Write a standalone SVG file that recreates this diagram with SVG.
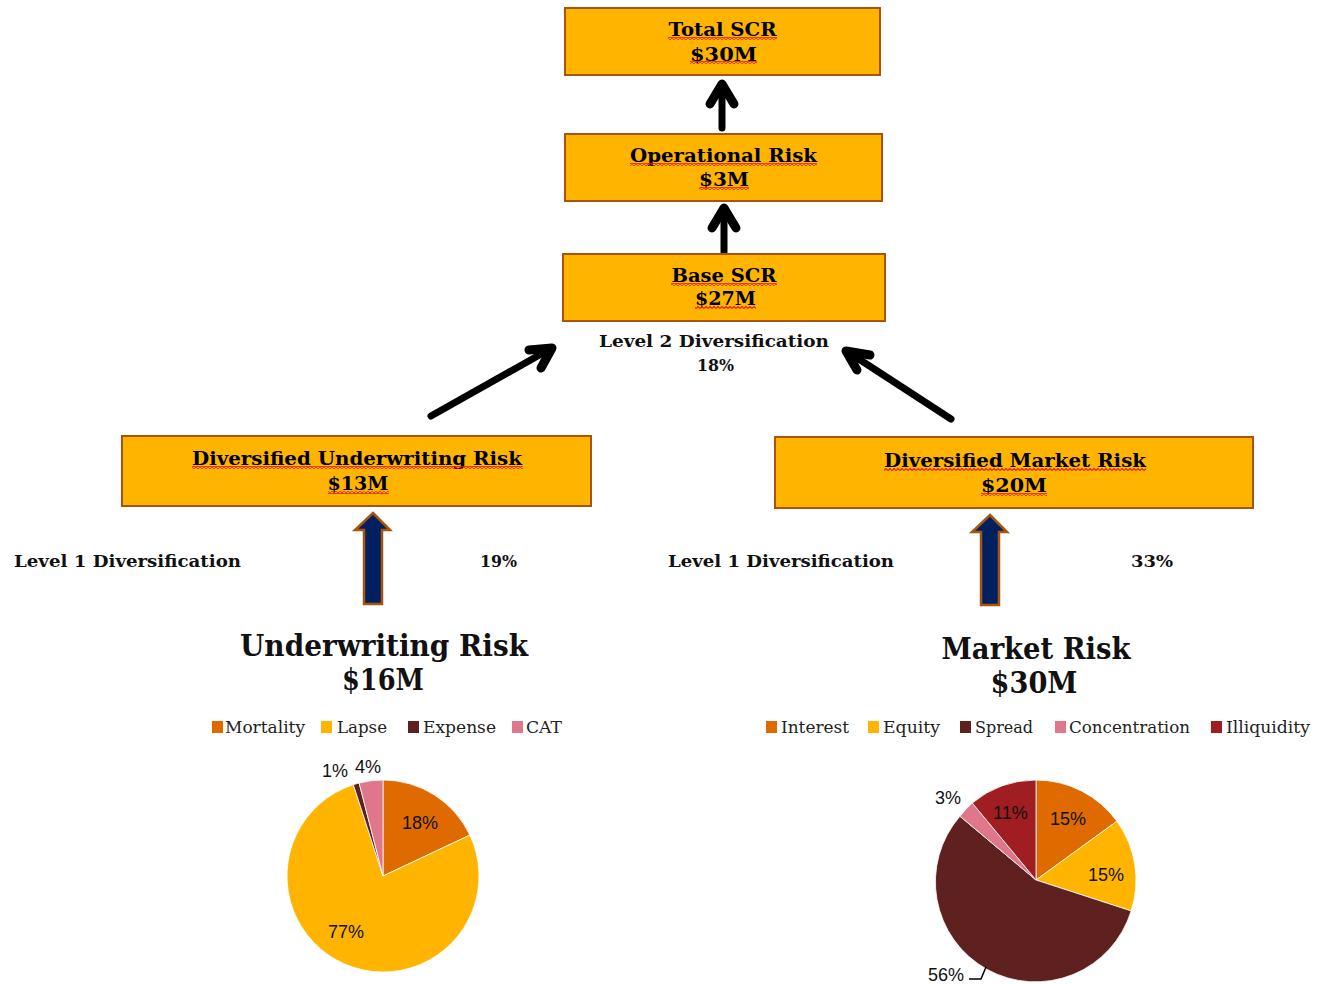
<svg xmlns="http://www.w3.org/2000/svg" width="1329" height="984" viewBox="0 0 1329 984">
<defs>
<pattern id="sq" patternUnits="userSpaceOnUse" width="4" height="3">
<path d="M0,2.5 L2,0.5 L4,2.5" fill="none" stroke="#E0201B" stroke-width="1.1"/>
</pattern>
<style>
.box{fill:#FFB400;stroke:#A8540C;stroke-width:2}
.bt{font-family:"DejaVu Serif","Liberation Serif",serif;font-weight:bold;font-size:19px;fill:#000;text-anchor:middle}
.lv{font-family:"DejaVu Serif","Liberation Serif",serif;font-weight:bold;font-size:16px;fill:#111}
.ttl{font-family:"DejaVu Serif","Liberation Serif",serif;font-weight:bold;font-size:29px;fill:#111;text-anchor:middle}
.lg{font-family:"DejaVu Serif","Liberation Serif",serif;font-size:16px;fill:#222}
.pl{font-family:"Liberation Sans",Arial,sans-serif;font-size:18px;fill:#111}
.sq{fill:url(#sq)}
.blk{fill:none;stroke:#000;stroke-width:7;stroke-linecap:round;stroke-linejoin:round}
.hd{fill:none;stroke:#000;stroke-width:9;stroke-linecap:round;stroke-linejoin:round}
.blue{fill:#002060;stroke:#A8540C;stroke-width:2.5}
.sl{stroke:#fff;stroke-width:0.8}
</style>
</defs>
<rect width="1329" height="984" fill="#fff"/>

<g id="connectors">
<line class="blk" x1="722" y1="128" x2="722" y2="86"/>
<polyline class="hd" points="710,104 722,84 734,104"/>
<line class="blk" x1="724" y1="252" x2="724" y2="210"/>
<polyline class="hd" points="712,228 724,208 736,228"/>
<line class="blk" x1="431" y1="416" x2="550" y2="349"/>
<polyline class="hd" points="529,350 552,348 541,368"/>
<line class="blk" x1="951" y1="419" x2="848" y2="352"/>
<polyline class="hd" points="870,355 846,351 857,370"/>
<polygon class="blue" points="373,513 390,530 382,530 382,604 364,604 364,530 355,530"/>
<polygon class="blue" points="990,515 1007,532 999,532 999,605 981,605 981,532 972,532"/>
</g>

<g id="total-scr">
<rect class="box" x="565" y="8" width="315" height="67"/>
<text class="bt" x="722.5" y="36" textLength="108" lengthAdjust="spacingAndGlyphs">Total SCR</text>
<text class="bt" x="723.5" y="61" textLength="67" lengthAdjust="spacingAndGlyphs">$30M</text>
<rect class="sq" x="668" y="37" width="109" height="3"/>
<rect class="sq" x="690" y="61" width="67" height="3"/>
</g>

<g id="operational-risk">
<rect class="box" x="565" y="134" width="317" height="67"/>
<text class="bt" x="723.5" y="162" textLength="187" lengthAdjust="spacingAndGlyphs">Operational Risk</text>
<text class="bt" x="724" y="186" textLength="50" lengthAdjust="spacingAndGlyphs">$3M</text>
<rect class="sq" x="630" y="163" width="187" height="3"/>
<rect class="sq" x="699" y="187" width="50" height="3"/>
</g>

<g id="base-scr">
<rect class="box" x="563" y="254" width="322" height="67"/>
<text class="bt" x="724" y="282" textLength="105" lengthAdjust="spacingAndGlyphs">Base SCR</text>
<text class="bt" x="725.5" y="305" textLength="61" lengthAdjust="spacingAndGlyphs">$27M</text>
<rect class="sq" x="671" y="283" width="106" height="3"/>
<rect class="sq" x="695" y="306" width="61" height="3"/>
</g>

<g id="level2">
<text class="lv" x="714" y="347" text-anchor="middle" textLength="230" lengthAdjust="spacingAndGlyphs">Level 2 Diversification</text>
<text class="lv" x="715.5" y="371" text-anchor="middle" textLength="37" lengthAdjust="spacingAndGlyphs">18%</text>
</g>

<g id="diversified-underwriting-risk">
<rect class="box" x="122" y="436" width="469" height="70"/>
<text class="bt" x="357" y="465" textLength="330" lengthAdjust="spacingAndGlyphs">Diversified Underwriting Risk</text>
<text class="bt" x="358" y="490" textLength="61" lengthAdjust="spacingAndGlyphs">$13M</text>
<rect class="sq" x="192" y="466" width="331" height="3"/>
<rect class="sq" x="328" y="491" width="61" height="3"/>
</g>

<g id="diversified-market-risk">
<rect class="box" x="775" y="437" width="478" height="71"/>
<text class="bt" x="1015" y="467" textLength="262" lengthAdjust="spacingAndGlyphs">Diversified Market Risk</text>
<text class="bt" x="1014" y="492" textLength="66" lengthAdjust="spacingAndGlyphs">$20M</text>
<rect class="sq" x="884" y="468" width="262" height="3"/>
<rect class="sq" x="981" y="493" width="66" height="3"/>
</g>

<g id="level1-left">
<text class="lv" x="14" y="567" textLength="227" lengthAdjust="spacingAndGlyphs">Level 1 Diversification</text>
<text class="lv" x="480" y="567" textLength="37" lengthAdjust="spacingAndGlyphs">19%</text>
</g>
<g id="level1-right">
<text class="lv" x="668" y="567" textLength="226" lengthAdjust="spacingAndGlyphs">Level 1 Diversification</text>
<text class="lv" x="1131" y="567" textLength="42" lengthAdjust="spacingAndGlyphs">33%</text>
</g>

<g id="underwriting-risk">
<text class="ttl" x="384" y="656" textLength="288" lengthAdjust="spacingAndGlyphs">Underwriting Risk</text>
<text class="ttl" x="383" y="690" textLength="82" lengthAdjust="spacingAndGlyphs">$16M</text>
<rect x="212" y="721" width="11" height="12" fill="#DE6A00"/>
<text class="lg" x="225" y="733" textLength="80" lengthAdjust="spacingAndGlyphs">Mortality</text>
<rect x="321" y="721" width="11" height="12" fill="#FFB400"/>
<text class="lg" x="337" y="733" textLength="50" lengthAdjust="spacingAndGlyphs">Lapse</text>
<rect x="408" y="721" width="11" height="12" fill="#5E2120"/>
<text class="lg" x="423" y="733" textLength="73" lengthAdjust="spacingAndGlyphs">Expense</text>
<rect x="512" y="721" width="11" height="12" fill="#E0768A"/>
<text class="lg" x="526" y="733" textLength="36" lengthAdjust="spacingAndGlyphs">CAT</text>
<path class="sl" fill="#DE6A00" d="M383,876 L383,780 A96,96 0 0 1 469.86,835.12 Z"/>
<path class="sl" fill="#FFB400" d="M383,876 L469.86,835.12 A96,96 0 1 1 353.33,784.70 Z"/>
<path class="sl" fill="#5E2120" d="M383,876 L353.33,784.70 A96,96 0 0 1 359.12,783.01 Z"/>
<path class="sl" fill="#E0768A" d="M383,876 L359.12,783.01 A96,96 0 0 1 383,780 Z"/>
<text class="pl" x="402" y="829">18%</text>
<text class="pl" x="328" y="938">77%</text>
<text class="pl" x="322" y="777">1%</text>
<text class="pl" x="355" y="773">4%</text>
</g>

<g id="market-risk">
<text class="ttl" x="1036" y="659" textLength="189" lengthAdjust="spacingAndGlyphs">Market Risk</text>
<text class="ttl" x="1034" y="693" textLength="87" lengthAdjust="spacingAndGlyphs">$30M</text>
<rect x="766" y="721" width="11" height="12" fill="#DE6A00"/>
<text class="lg" x="781" y="733" textLength="68" lengthAdjust="spacingAndGlyphs">Interest</text>
<rect x="868" y="721" width="11" height="12" fill="#FFB400"/>
<text class="lg" x="883" y="733" textLength="57" lengthAdjust="spacingAndGlyphs">Equity</text>
<rect x="960" y="721" width="11" height="12" fill="#5E2120"/>
<text class="lg" x="975" y="733" textLength="58" lengthAdjust="spacingAndGlyphs">Spread</text>
<rect x="1055" y="721" width="11" height="12" fill="#E0768A"/>
<text class="lg" x="1069" y="733" textLength="121" lengthAdjust="spacingAndGlyphs">Concentration</text>
<rect x="1211" y="721" width="11" height="12" fill="#A01E22"/>
<text class="lg" x="1226" y="733" textLength="84" lengthAdjust="spacingAndGlyphs">Illiquidity</text>
<path class="sl" fill="#DE6A00" d="M1036,880 L1036,780 A100,100 0 0 1 1116.90,821.22 Z"/>
<path class="sl" fill="#FFB400" d="M1036,880 L1116.90,821.22 A100,100 0 0 1 1131.11,910.90 Z"/>
<path class="sl" fill="#5E2120" d="M1036,880 L1131.11,910.90 A100,100 0 1 1 959.95,816.26 Z"/>
<path class="sl" fill="#E0768A" d="M1036,880 L959.95,816.26 A100,100 0 0 1 972.26,802.95 Z"/>
<path class="sl" fill="#A01E22" d="M1036,880 L972.26,802.95 A100,100 0 0 1 1036,780 Z"/>
<text class="pl" x="1050" y="825">15%</text>
<text class="pl" x="1088" y="881">15%</text>
<text class="pl" x="993" y="819">11%</text>
<text class="pl" x="935" y="804">3%</text>
<text class="pl" x="928" y="981">56%</text>
<polyline points="969,979 981,979 986,967" fill="none" stroke="#000" stroke-width="1.5"/>
</g>
</svg>
